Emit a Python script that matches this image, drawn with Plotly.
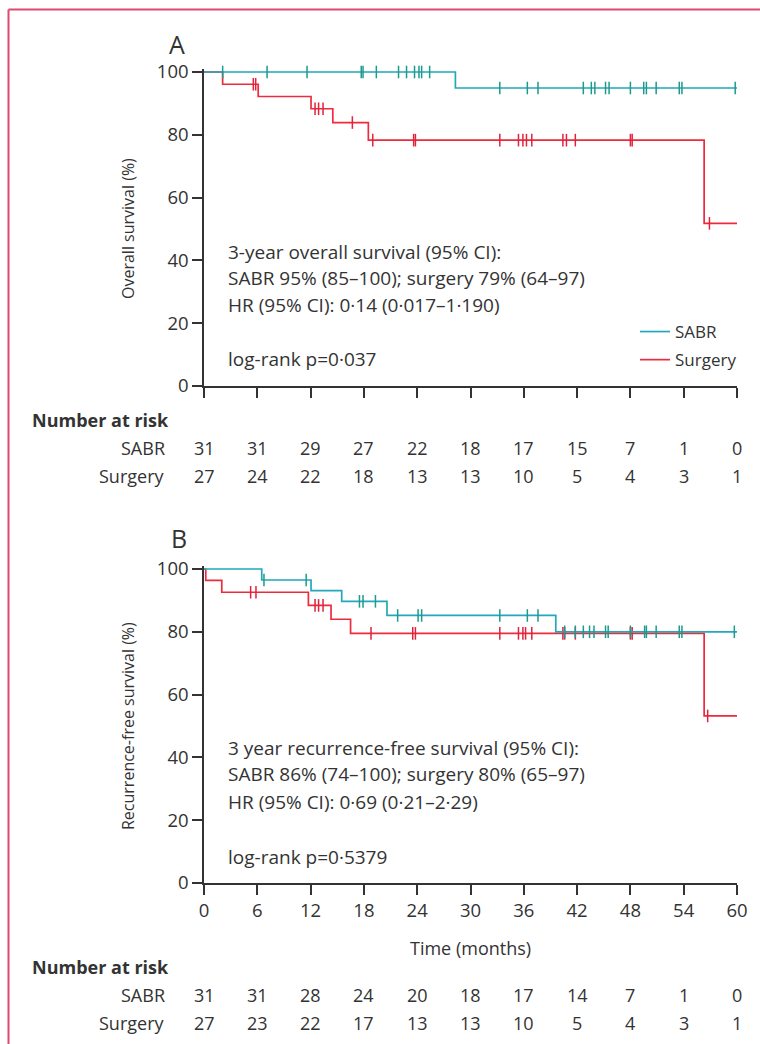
import plotly.graph_objects as go

# ---------------- data ----------------
months_ticks = [0, 6, 12, 18, 24, 30, 36, 42, 48, 54, 60]
percent_ticks = [0, 20, 40, 60, 80, 100]

# Panel A: overall survival (step curves)
a_sabr_t = [0, 28.3, 60]
a_sabr_s = [100, 94.9, 94.9]
a_sabr_cens = [2.1, 7.1, 11.6, 17.7, 17.9, 19.4, 21.9, 22.8, 23.7, 24.2, 24.5, 25.4,
               33.3, 36.4, 37.6, 42.7, 43.6, 44.0, 45.2, 45.6, 48.0, 49.5, 49.8, 50.9,
               53.5, 53.8, 59.8]
a_surg_t = [0, 2.1, 6.1, 12.05, 14.5, 18.5, 56.3, 60]
a_surg_s = [100, 96.1, 92.2, 88.3, 83.9, 78.3, 51.8, 51.8]
a_surg_cens = [5.55, 5.82, 12.5, 12.9, 13.4, 16.7, 19.0, 23.6, 23.8, 33.3, 35.4, 35.9,
               36.3, 36.9, 40.4, 40.8, 41.8, 48.0, 48.2, 56.9]

# Panel B: recurrence-free survival
b_sabr_t = [0, 6.5, 12.05, 15.5, 20.6, 39.6, 60]
b_sabr_s = [100, 96.5, 93.1, 89.7, 85.2, 80.0, 80.0]
b_sabr_cens = [6.75, 11.5, 17.5, 17.9, 19.3, 21.8, 24.1, 24.5, 33.3, 36.4, 37.6, 40.6,
               41.8, 42.7, 43.4, 43.9, 45.2, 45.5, 48.0, 49.6, 49.8, 50.9, 53.5, 53.8, 59.7]
b_surg_t = [0, 0.2, 2.0, 11.75, 14.3, 16.5, 56.3, 60]
b_surg_s = [100, 96.4, 92.6, 88.4, 84.0, 79.5, 53.2, 53.2]
b_surg_cens = [5.25, 5.85, 12.5, 12.9, 13.4, 18.8, 23.5, 23.8, 33.3, 35.4, 35.9, 36.2,
               36.9, 40.4, 40.6, 41.8, 48.0, 48.2, 56.7]

# Numbers at risk
a_risk_sabr = [31, 31, 29, 27, 22, 18, 17, 15, 7, 1, 0]
a_risk_surg = [27, 24, 22, 18, 13, 13, 10, 5, 4, 3, 1]
b_risk_sabr = [31, 31, 28, 24, 20, 18, 17, 14, 7, 1, 0]
b_risk_surg = [27, 23, 22, 17, 13, 13, 10, 5, 4, 3, 1]

a_text = ["3-year overall survival (95% CI):",
          "SABR 95% (85–100); surgery 79% (64–97)",
          "HR (95% CI): 0·14 (0·017–1·190)",
          "log-rank p=0·037"]
b_text = ["3 year recurrence-free survival (95% CI):",
          "SABR 86% (74–100); surgery 80% (65–97)",
          "HR (95% CI): 0·69 (0·21–2·29)",
          "log-rank p=0·5379"]

# ---------------- styling ----------------
W, H = 760, 1044
FONT = "Open Sans"
TXT = "#333333"
SABR_C = "#22A8BA"
SABR_TICK = "#1C9A8E"
SURG_C = "#EE2B3D"
SURG_TICK = "#E0223C"
BORDER = "#E04870"
FS_BODY = 19
FS_TICK = 18.5
FS_TABLE = 18
FS_YTITLE = 16
FS_LEG = 17


def py(pix):
    return 1 - pix / H


def px(pix):
    return pix / W


def step_at(ts, ss, t):
    v = ss[0]
    for ti, si in zip(ts, ss):
        if ti <= t:
            v = si
    return v


fig = go.Figure()


def add_panel(xa, ya, sabr_t, sabr_s, sabr_c, surg_t, surg_s, surg_c, legend):
    fig.add_trace(go.Scatter(x=surg_t, y=surg_s, mode="lines", line=dict(color=SURG_C, width=1.7, shape="hv"),
                             name="Surgery", legendrank=2, legendgroup="surg", showlegend=legend,
                             xaxis=xa, yaxis=ya, hoverinfo="skip"))
    fig.add_trace(go.Scatter(x=surg_c, y=[step_at(surg_t, surg_s, t) for t in surg_c], mode="markers",
                             marker=dict(symbol="line-ns", size=9, line=dict(color=SURG_TICK, width=1.5)),
                             showlegend=False, xaxis=xa, yaxis=ya, hoverinfo="skip", cliponaxis=False))
    fig.add_trace(go.Scatter(x=sabr_t, y=sabr_s, mode="lines", line=dict(color=SABR_C, width=1.7, shape="hv"),
                             name="SABR", legendrank=1, legendgroup="sabr", showlegend=legend,
                             xaxis=xa, yaxis=ya, hoverinfo="skip"))
    fig.add_trace(go.Scatter(x=sabr_c, y=[step_at(sabr_t, sabr_s, t) for t in sabr_c], mode="markers",
                             marker=dict(symbol="line-ns", size=9, line=dict(color=SABR_TICK, width=1.5)),
                             showlegend=False, xaxis=xa, yaxis=ya, hoverinfo="skip", cliponaxis=False))


add_panel("x", "y", a_sabr_t, a_sabr_s, a_sabr_cens, a_surg_t, a_surg_s, a_surg_cens, True)
add_panel("x2", "y2", b_sabr_t, b_sabr_s, b_sabr_cens, b_surg_t, b_surg_s, b_surg_cens, False)

x_dom = [px(204), px(737)]
axis_common = dict(showgrid=False, zeroline=False, showline=True, linecolor=TXT, linewidth=1.5,
                   ticks="outside", ticklen=10, tickwidth=1.5, tickcolor=TXT, automargin=False,
                   tickfont=dict(family=FONT, size=FS_TICK, color=TXT))

ytop_a, ybot_a = 72, 386
ytop_b, ybot_b = 569, 883
unit_a = (ybot_a - ytop_a) / 100
unit_b = (ybot_b - ytop_b) / 100

fig.update_layout(
    width=W, height=H,
    margin=dict(l=0, r=0, t=0, b=0, pad=0, autoexpand=False),
    paper_bgcolor="white", plot_bgcolor="white",
    font=dict(family=FONT, size=FS_BODY, color=TXT),
    xaxis=dict(domain=x_dom, range=[0, 60], tickvals=months_ticks, showticklabels=False,
               anchor="y", **axis_common),
    yaxis=dict(domain=[py(ybot_a), py(ybot_a - 101 * unit_a)], range=[0, 101], tickvals=percent_ticks,
               anchor="x", **axis_common),
    xaxis2=dict(domain=x_dom, range=[0, 60], tickvals=months_ticks, showticklabels=True,
                anchor="y2", **axis_common),
    yaxis2=dict(domain=[py(ybot_b), py(ybot_b - 101 * unit_b)], range=[0, 101], tickvals=percent_ticks,
                anchor="x2", **axis_common),
    legend=dict(x=px(742), xanchor="right", y=py(314), yanchor="top", bgcolor="rgba(0,0,0,0)",
                font=dict(family=FONT, size=FS_LEG, color=TXT), tracegroupgap=3, itemwidth=30),
    showlegend=True,
)

ann = []


def text(x, y, s, anchor="left", size=FS_BODY, bold=False, xref="paper", angle=0):
    ann.append(dict(x=x, y=y, xref=xref, yref="paper", text=("<b>%s</b>" % s) if bold else s,
                    showarrow=False, xanchor=anchor, yanchor="middle", textangle=angle,
                    font=dict(family=FONT, size=size, color=TXT)))


# panel letters
text(px(177), py(44), "A", anchor="center", size=25)
text(px(179), py(538), "B", anchor="center", size=25)

# y titles
text(px(128), py((ytop_a + ybot_a) / 2), "Overall survival (%)", anchor="center", angle=-90, size=FS_YTITLE)
text(px(128), py((ytop_b + ybot_b) / 2), "Recurrence-free survival (%)", anchor="center", angle=-90,
     size=FS_YTITLE)

# in-plot statistics text
for s, yy in zip(a_text, [252, 278, 305, 359]):
    text(px(226), py(yy), s)
for s, yy in zip(b_text, [748, 774, 802, 857]):
    text(px(226), py(yy), s)

# x title
text(px(470), py(948), "Time (months)", anchor="center", size=FS_TABLE)

# number at risk tables
text(px(30), py(420), "Number at risk", bold=True, size=FS_TABLE)
text(px(167), py(448), "SABR", anchor="right", size=FS_TABLE)
text(px(167), py(476), "Surgery", anchor="right", size=FS_TABLE)
for m, a, b in zip(months_ticks, a_risk_sabr, a_risk_surg):
    text(m, py(448), str(a), anchor="center", xref="x", size=FS_TABLE)
    text(m, py(476), str(b), anchor="center", xref="x", size=FS_TABLE)

text(px(30), py(967), "Number at risk", bold=True, size=FS_TABLE)
text(px(167), py(995), "SABR", anchor="right", size=FS_TABLE)
text(px(167), py(1023), "Surgery", anchor="right", size=FS_TABLE)
for m, a, b in zip(months_ticks, b_risk_sabr, b_risk_surg):
    text(m, py(995), str(a), anchor="center", xref="x2", size=FS_TABLE)
    text(m, py(1023), str(b), anchor="center", xref="x2", size=FS_TABLE)

fig.update_layout(annotations=ann)

# pink frame (top and left edges visible)
fig.add_shape(type="line", xref="paper", yref="paper", x0=px(8.5), x1=1.0, y0=py(9.5), y1=py(9.5),
              line=dict(color=BORDER, width=2))
fig.add_shape(type="line", xref="paper", yref="paper", x0=px(8.5), x1=px(8.5), y0=py(9.5), y1=0,
              line=dict(color=BORDER, width=2))

fig.write_html("out.html", config={"displayModeBar": False},
               post_script="document.body.style.margin='0';")
